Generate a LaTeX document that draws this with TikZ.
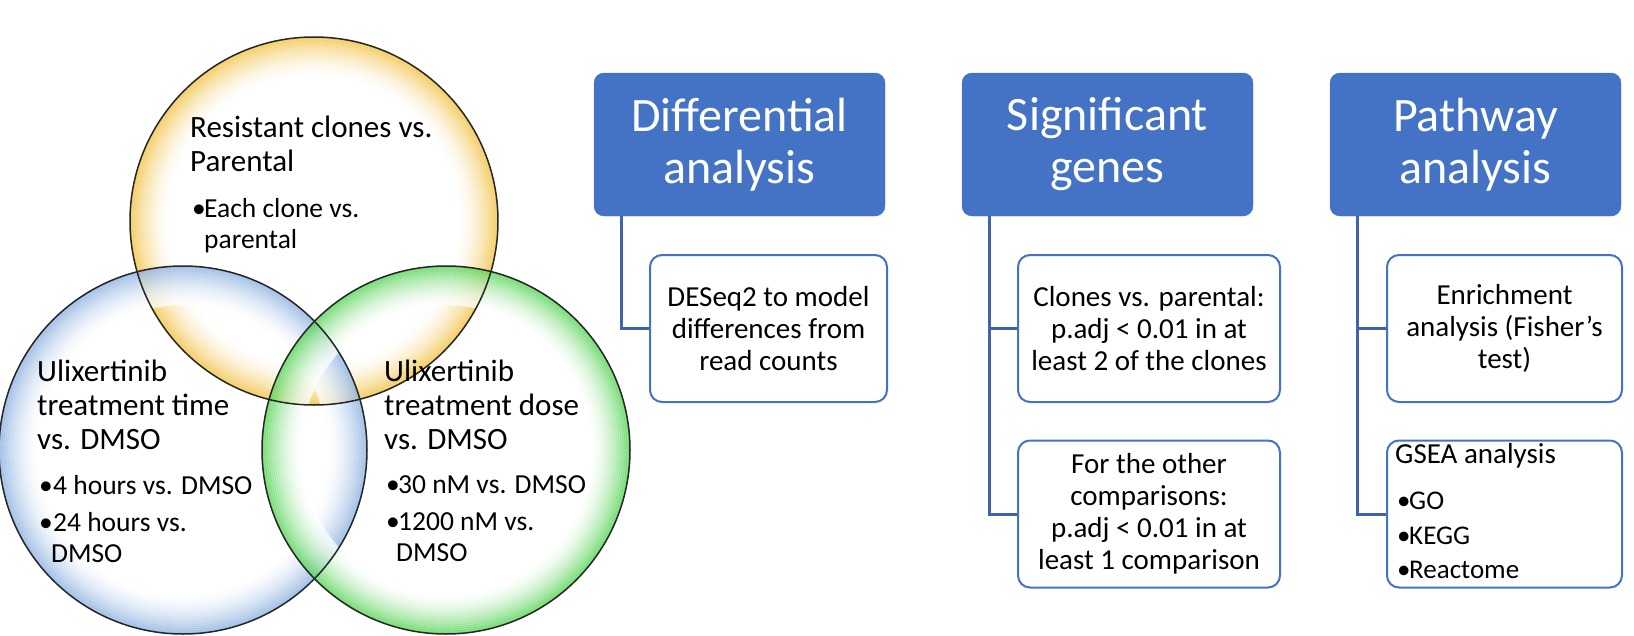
\documentclass[tikz,border=0pt]{standalone}
\usepackage{fontspec}
\setmainfont{Carlito}
\definecolor{hdr}{HTML}{4472C4}
\definecolor{conncol}{HTML}{3F63AE}
\definecolor{yrim}{HTML}{F2BF3C}
\definecolor{brim}{HTML}{86AEDF}
\definecolor{grim}{HTML}{4FD24F}
\tikzset{
  vennline/.style={draw=black!85, line width=1.5pt},
  vtitle/.style={anchor=north west, inner sep=0pt, align=left, font=\fontsize{31}{34}\selectfont},
  vbul/.style={anchor=north west, inner sep=0pt, align=left, font=\fontsize{27.5}{31}\selectfont},
  hdrbox/.style={fill=hdr, draw=hdr, rounded corners=10pt, text=white, align=center, inner sep=0pt, minimum width=291pt, minimum height=143pt, font=\fontsize{48}{52}\selectfont},
  childbox/.style={draw=hdr, line width=2pt, fill=white, rounded corners=12pt, align=center, inner sep=0pt, minimum height=147pt, font=\fontsize{29}{32}\selectfont},
  conn/.style={draw=conncol, line width=3pt},
}
\newcommand{\bul}[1]{\makebox[#1][l]{•}}
% glow ring: centre, rim colour
\newcommand{\glowring}[2]{%
  \begin{scope}
    \clip #1 circle[radius=184];
    \foreach \k in {0,...,19}{
      \pgfmathsetmacro{\pct}{100*(1-\k/20)^1.6}
      \draw[draw=#2!\pct!white, line width=2.6pt, opacity=0.7] #1 circle[radius=184-2*\k];
    }
  \end{scope}}
\begin{document}
\begin{tikzpicture}[x=1pt,y=-1pt]
\useasboundingbox (0,0) rectangle (1634,635);
% Venn circles
\glowring{(314,221)}{yrim}
\glowring{(183,450)}{brim}
\glowring{(446,450)}{grim}
\draw[vennline] (314,221) circle[radius=184];
\draw[vennline] (183,450) circle[radius=184];
\draw[vennline] (446,450) circle[radius=184];
% Venn texts
\node[vtitle] (ytitle) at (190,116) {Resistant clones vs.\\Parental};
\node[vbul] (ybul) at (192,198) {\bul{12pt}Each clone vs.\\\hspace*{12pt}parental};
\node[vtitle] (btitle) at (37,360) {Ulixertinib\\treatment time\\vs. DMSO};
\node[vbul] (bbul) at (39,475) {\bul{14pt}4 hours vs. DMSO\\[6pt]\bul{14pt}24 hours vs.\\\hspace*{12pt}DMSO};
\node[vtitle] (gtitle) at (384,360) {Ulixertinib\\treatment dose\\vs. DMSO};
\node[vbul] (gbul) at (386,475) {\bul{12pt}30 nM vs. DMSO\\[6pt]\bul{12pt}1200 nM vs.\\\hspace*{10pt}DMSO};
% Headers
\node[hdrbox] (h1) at (739.5,144.5) {Differential\\analysis};
\node[hdrbox] (h2) at (1107.5,144.5) {Significant\\genes};
\node[hdrbox] (h3) at (1475.5,144.5) {Pathway\\analysis};
% Children
\node[childbox, minimum width=237pt] (c1) at (768.5,328.5) {DESeq2 to model\\differences from\\read counts};
\node[childbox, minimum width=262pt] (c2) at (1149,328.5) {Clones vs. parental:\\p.adj < 0.01 in at\\least 2 of the clones};
\node[childbox, minimum width=262pt] (c3) at (1149,514) {For the other\\comparisons:\\p.adj < 0.01 in at\\least 1 comparison};
\node[childbox, minimum width=235pt] (c4) at (1504.5,328.5) {Enrichment\\analysis (Fisher’s\\test)};
\node[childbox, minimum width=235pt] (c5) at (1504.5,514) {};
\node[anchor=north west, inner sep=0pt, align=left, font=\fontsize{29}{32}\selectfont] (gsea) at (1395,443) {GSEA analysis};
\node[anchor=north west, inner sep=0pt, align=left, font=\fontsize{27}{34.5}\selectfont] (gbl) at (1397,492) {\bul{12pt}GO\\\bul{12pt}KEGG\\\bul{12pt}Reactome};
% Connectors
\draw[conn] ([xshift=28pt]h1.south west) |- (c1.west);
\draw[conn] ([xshift=28pt]h2.south west) |- (c2.west);
\draw[conn] ([xshift=28pt]h2.south west) |- (c3.west);
\draw[conn] ([xshift=28pt]h3.south west) |- (c4.west);
\draw[conn] ([xshift=28pt]h3.south west) |- (c5.west);
\end{tikzpicture}
\end{document}
